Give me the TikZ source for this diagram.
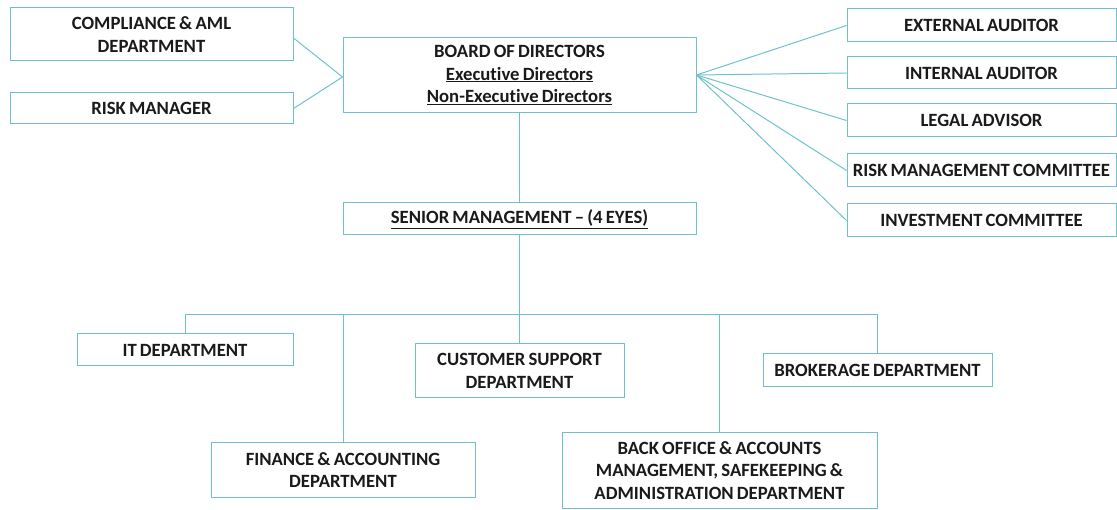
\documentclass[tikz,border=0pt]{standalone}
\usepackage{fontspec}
\setmainfont[Ligatures=NoCommon,WordSpace=0.75]{Carlito}
\definecolor{teal1}{HTML}{6FC2CB}
\definecolor{txt}{HTML}{1A1A1A}
\begin{document}
\begin{tikzpicture}[x=1pt,y=-1pt,
  box/.style={draw=teal1, line width=1pt, fill=white, inner sep=0pt, align=center,
    text=txt, font=\fontsize{18.7}{22.5}\selectfont\bfseries},
  conn/.style={draw=teal1, line width=1pt}]
\useasboundingbox (0,0) rectangle (1117,510);
% top left
\node[box, minimum width=283pt, minimum height=53pt] (comp) at (151.5,34.5) {COMPLIANCE \& AML\\DEPARTMENT};
\node[box, minimum width=283pt, minimum height=31pt] (riskm) at (151.5,108.5) {RISK MANAGER};
% board
\node[box, minimum width=353pt, minimum height=75pt] (board) at (519.5,75) {BOARD OF DIRECTORS\\\underline{Executive Directors}\\\underline{Non-Executive Directors}};
% right column
\node[box, minimum width=269pt, minimum height=33pt] (ext) at (981.5,25.5) {EXTERNAL AUDITOR};
\node[box, minimum width=269pt, minimum height=32pt] (int) at (981.5,73) {INTERNAL AUDITOR};
\node[box, minimum width=269pt, minimum height=33pt] (legal) at (981.5,120.5) {LEGAL ADVISOR};
\node[box, minimum width=269pt, minimum height=33pt] (rmc) at (981.5,170.5) {RISK MANAGEMENT COMMITTEE};
\node[box, minimum width=269pt, minimum height=33pt] (inv) at (981.5,220.5) {INVESTMENT COMMITTEE};
% senior
\node[box, minimum width=353pt, minimum height=32pt] (senior) at (519.5,219) {\underline{SENIOR MANAGEMENT – (4 EYES)}};
% bottom
\node[box, minimum width=216pt, minimum height=32pt] (it) at (185,350) {IT DEPARTMENT};
\node[box, minimum width=209pt, minimum height=54pt] (cs) at (519.5,371) {CUSTOMER SUPPORT\\DEPARTMENT};
\node[box, minimum width=229pt, minimum height=33pt] (brk) at (877.5,370.5) {BROKERAGE DEPARTMENT};
\node[box, minimum width=264pt, minimum height=54pt] (fin) at (343,470) {FINANCE \& ACCOUNTING\\DEPARTMENT};
\node[box, minimum width=315pt, minimum height=75pt] (bo) at (719.5,470.5) {BACK OFFICE \& ACCOUNTS\\MANAGEMENT, SAFEKEEPING \&\\ADMINISTRATION DEPARTMENT};
\coordinate (bus) at (519.5,315);
% connectors
\draw[conn] ([yshift=-3.5pt]comp.east) -- ([yshift=-2pt]board.west);
\draw[conn] (riskm.east) -- ([yshift=-2pt]board.west);
\foreach \n in {ext,int,legal,rmc,inv}
  \draw[conn] (board.east) -- (\n.west);
\draw[conn] (board.south) -- (senior.north);
\draw[conn] (senior.south) -- (bus);
\draw[conn] (it.north) |- (brk.north |- bus) -- (brk.north);
\draw[conn] (fin.north) -- (fin.north |- bus);
\draw[conn] (cs.north) -- (cs.north |- bus);
\draw[conn] (bo.north) -- (bo.north |- bus);
\end{tikzpicture}
\end{document}
